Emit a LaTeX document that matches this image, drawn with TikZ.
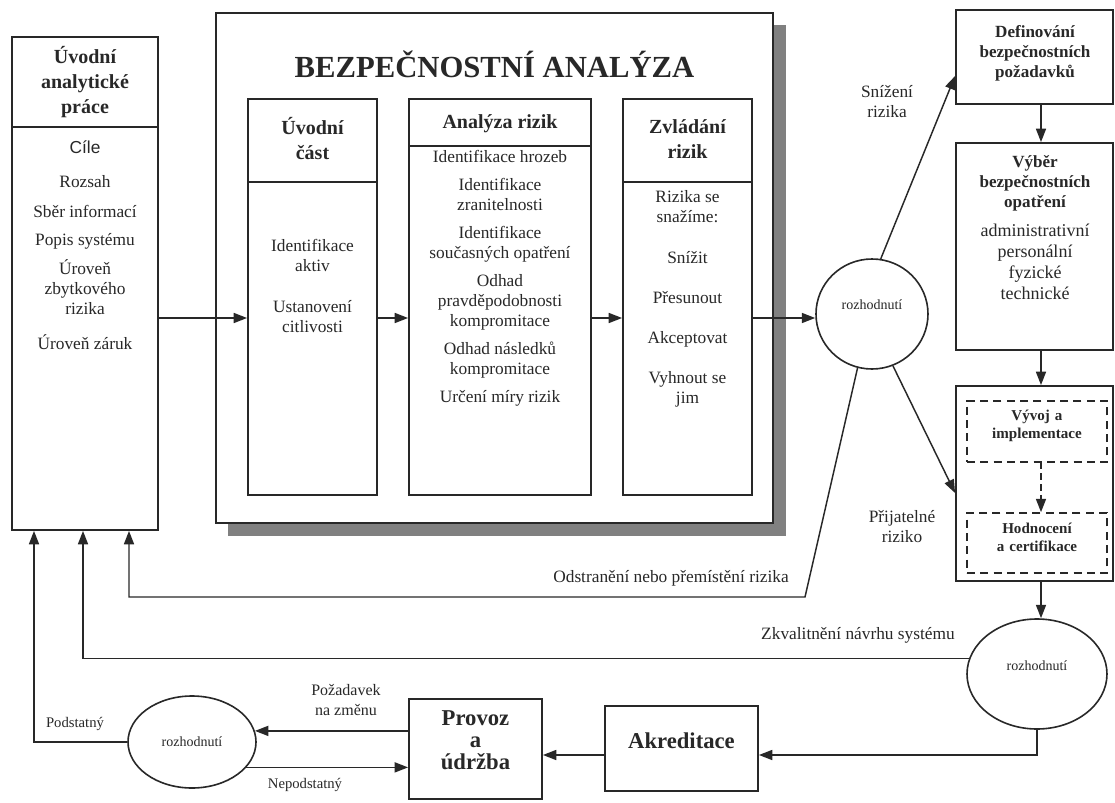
\documentclass[tikz,border=0pt]{standalone}
\usepackage{fontspec}
\setmainfont{Liberation Serif}
\newfontfamily\cilefont{Liberation Sans}
\usepackage{tikz}
\usetikzlibrary{arrows.meta,fit,shapes.geometric,positioning}
\definecolor{Ink}{RGB}{40,40,40}
\definecolor{Shadow}{RGB}{128,128,128}

\newcommand\txtbody{\fontsize{13}{15}\selectfont}
\newcommand\txthead{\bfseries\fontsize{15}{18.75}\selectfont}
\newcommand\txttitle{\bfseries\fontsize{23}{26}\selectfont}
\newcommand\txtcol{\bfseries\fontsize{12.8}{15}\selectfont}
\newcommand\txtcolbody{\fontsize{13.5}{15.75}\selectfont}
\newcommand\txtdash{\bfseries\fontsize{11.3}{13.5}\selectfont}
\newcommand\txtdec{\fontsize{10.5}{12}\selectfont}
\newcommand\txtlab{\fontsize{12}{15.5}\selectfont}
\newcommand\txtsmall{\fontsize{11}{13}\selectfont}
\newcommand\txtbig{\bfseries\fontsize{17}{16.5}\selectfont}

\begin{document}
\begin{tikzpicture}[x=0.75pt, y=-0.75pt,
       >={Triangle[length=10pt,width=7.5pt]}, Ink, text=Ink, line width=1.1pt,
       every node/.style={font=\txtbody, inner sep=0pt},
       box/.style={rectangle, draw=Ink, line width=1.4pt},
       dashbox/.style={rectangle, draw=Ink, line width=1.2pt, dash pattern=on 6pt off 4pt},
       decision/.style 2 args={ellipse, draw=Ink, line width=1.2pt,
                               minimum width=#1, minimum height=#2, font=\txtdec}]
	\useasboundingbox (0,0) rectangle (1115,803);
	\fill [white] (0,0) rectangle (1115,803);

	%% Helper coordinates
	\coordinate (row) at (0,318);
	\coordinate (hdL) at (0,127);
	\coordinate (hdS) at (0,182);
	\coordinate (hdA) at (0,146);
	\coordinate (colX) at (1041,0);
	\coordinate (snY) at (0,76);
	\coordinate (prY) at (0,493);
	\coordinate (akY) at (0,755);
	\coordinate (x1) at (34,0);
	\coordinate (x2) at (83,0);
	\coordinate (x3) at (129,0);
	\coordinate (kink) at (805,597);

	%% Uvodni analyticke prace
	\node [box, fit={(12,37) (158,530)}] (uvod) {};
	\draw [line width=1.4pt] (uvod.west |- hdL) -- (uvod.east |- hdL);
	\node [align=center, font=\txthead] (uvodT) at (85,82) {Úvodní\\analytické\\práce};
	\node [align=center] (uvodB) at (85,245) {{\cilefont Cíle}\\[11pt] Rozsah\\[7pt] Sběr informací\\[6pt]
	          Popis systému\\[7pt] Úroveň\\zbytkového\\rizika\\[11pt] Úroveň záruk};

	%% Bezpecnostni analyza
	\fill [Shadow] (228,25) rectangle (786,536);
	\node [box, fill=white, fit={(216,13) (773,523)}] (bezp) {};
	\node [font=\txttitle] (bezpT) at (494.5,64) {BEZPEČNOSTNÍ ANALÝZA};

	\node [box, fit={(248,99) (377,495)}] (cast) {};
	\draw [line width=1.4pt] (cast.west |- hdS) -- (cast.east |- hdS);
	\node [align=center, font=\txthead] (castT) at (312.5,139) {Úvodní\\část};
	\node [align=center] (castB) at (312.5,286) {Identifikace\\aktiv\\[16pt] Ustanovení\\citlivosti};

	\node [box, fit={(409,99) (591,495)}] (analyza) {};
	\draw [line width=1.4pt] (analyza.west |- hdA) -- (analyza.east |- hdA);
	\node [font=\txthead] (analyzaT) at (500,124) {Analýza rizik};
	\node [align=center] (analyzaB) at (500,278) {Identifikace hrozeb\\[6pt] Identifikace\\zranitelnosti\\[6pt]
	          Identifikace\\současných opatření\\[6pt] Odhad\\pravděpodobnosti\\kompromitace\\[6pt]
	          Odhad následků\\kompromitace\\[6pt] Určení míry rizik};

	\node [box, fit={(623,99) (752,495)}] (zvladani) {};
	\draw [line width=1.4pt] (zvladani.west |- hdS) -- (zvladani.east |- hdS);
	\node [align=center, font=\txthead] (zvladaniT) at (687.5,139) {Zvládání\\rizik};
	\node [align=center] (zvladaniB) at (687.5,299) {Rizika se\\snažíme:\\[16pt] Snížit\\[15pt] Přesunout\\[15pt]
	          Akceptovat\\[15pt] Vyhnout se\\jim};

	%% Decisions
	\node [decision={84pt}{82.5pt}] (roz1) at (872,314) {};
	\node [font=\txtdec] (roz1T) at ([yshift=7pt]roz1.center) {rozhodnutí};
	\node [decision={105pt}{82.5pt}] (roz2) at (1037,674) {};
	\node [font=\txtdec] (roz2T) at ([yshift=6pt]roz2.center) {rozhodnutí};
	\node [decision={96pt}{69pt}] (roz3) at (192,742) {rozhodnutí};

	%% Right column
	\node [box, fit={(956,10) (1113,104)}] (defin) {};
	\node [align=center, font=\txtcol] (definT) at (1035,53) {Definování\\bezpečnostních\\požadavků};
	\node [box, fit={(956,143) (1113,350)}] (vyber) {};
	\node [align=center, font=\txtcol] (vyberT) at (1035,183) {Výběr\\bezpečnostních\\opatření};
	\node [align=center, font=\txtcolbody] (vyberB) at (1035,262) {administrativní\\personální\\fyzické\\technické};
	\node [box, fit={(956,386) (1113,581)}] (realiz) {};
	\node [dashbox, fit={(967,401) (1107,462)}, align=center, font=\txtdash] (vyvoj) {Vývoj a\\implementace};
	\node [dashbox, fit={(967,513) (1107,573)}, align=center, font=\txtdash] (hodnoc) {Hodnocení\\a certifikace};

	%% Bottom row
	\node [box, fit={(605,706) (758,791)}, font=\txtbig] (akredit) {Akreditace};
	\node [box, fit={(409,699) (542,799)}] (provoz) {};
	\node [align=center, font=\txtbig] (provozT) at (475.5,740) {Provoz\\a\\údržba};

	%% Labels
	\node [align=center] (snizL) at (887,102) {Snížení\\rizika};
	\node [align=center] (prijL) at (902,527) {Přijatelné\\riziko};
	\node (odstrL) at (671,578) {Odstranění nebo přemístění rizika};
	\node (zkvalL) at (858,635) {Zkvalitnění návrhu systému};
	\node [align=center, font=\txtlab] (pozL) at (346,700) {Požadavek\\na změnu};
	\node [font=\txtsmall] (podL) at (75,724) {Podstatný};
	\node [font=\txtsmall] (nepodL) at (305,785) {Nepodstatný};

	%% Paths
	\draw [->] (uvod.east |- row) -- (cast.west |- row);
	\draw [->] (cast.east |- row) -- (analyza.west |- row);
	\draw [->] (analyza.east |- row) -- (zvladani.west |- row);
	\draw [->] (zvladani.east |- row) -- (roz1.west |- row);
	\draw [->] (roz1.81) -- (defin.west |- snY);
	\draw [->] (roz1.-68) -- (realiz.west |- prY);
	\draw [->] (roz1.255) -- (kink) -| (uvod.south -| x3);
	\draw [->] (defin.south -| colX) -- (vyber.north -| colX);
	\draw [->] (vyber.south -| colX) -- (realiz.north -| colX);
	\draw [->, dash pattern=on 5pt off 3pt] (vyvoj.south -| colX) -- (hodnoc.north -| colX);
	\draw [->] (realiz.south -| colX) -- (roz2.north -| colX);
	\draw [->] (roz2.167) -| (uvod.south -| x2);
	\draw [->] (roz2.south) |- (akredit.east |- akY);
	\draw [->] (akredit.west |- akY) -- (provoz.east |- akY);
	\draw [->] (provoz.west |- roz3.10) -- (roz3.10);
	\draw [->] (roz3.-25) -- (provoz.west |- roz3.-25);
	\draw [->] (roz3.west) -| (uvod.south -| x1);
\end{tikzpicture}
\end{document}
